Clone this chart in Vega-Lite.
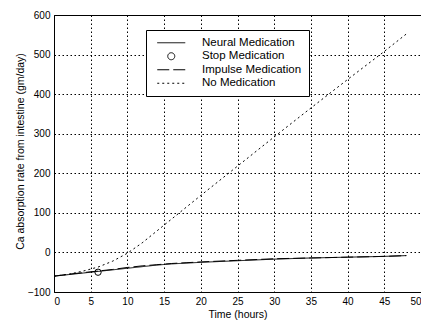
{
  "$schema": "https://vega.github.io/schema/vega-lite/v6.json",
  "autosize": "none",
  "padding": {"left": 54, "top": 15, "right": 0, "bottom": 32},
  "width": 367,
  "height": 277,
  "background": "white",
  "config": {
    "font": "Liberation Sans",
    "view": {"stroke": "black", "strokeWidth": 1},
    "axis": {
      "grid": true, "gridColor": "black", "gridDash": [1.5, 2.5], "gridOpacity": 1, "gridWidth": 1,
      "domain": false, "ticks": false,
      "labelFont": "Liberation Sans", "labelFontSize": 10, "labelColor": "black",
      "titleFont": "Liberation Sans", "titleFontSize": 10.5, "titleFontWeight": "normal", "titleColor": "black"
    },
    "legend": {
      "orient": "none", "legendX": 92, "legendY": 15,
      "strokeColor": "black", "fillColor": "white", "padding": 7,
      "symbolSize": 49, "symbolStrokeWidth": 1, "symbolStrokeColor": "black",
      "symbolOffset": 12.5, "labelOffset": 25,
      "labelFont": "Liberation Sans", "labelFontSize": 11.5, "labelColor": "black",
      "rowPadding": 0.5, "title": null
    }
  },
  "data": {
    "values": [
      {"series": "Neural Medication", "t": 0, "v": -60},
      {"series": "Neural Medication", "t": 2, "v": -56},
      {"series": "Neural Medication", "t": 4, "v": -52},
      {"series": "Neural Medication", "t": 6, "v": -48},
      {"series": "Neural Medication", "t": 8, "v": -44},
      {"series": "Neural Medication", "t": 10, "v": -40},
      {"series": "Neural Medication", "t": 12, "v": -36},
      {"series": "Neural Medication", "t": 14, "v": -32},
      {"series": "Neural Medication", "t": 16, "v": -29},
      {"series": "Neural Medication", "t": 18, "v": -27},
      {"series": "Neural Medication", "t": 20, "v": -25},
      {"series": "Neural Medication", "t": 25, "v": -21},
      {"series": "Neural Medication", "t": 30, "v": -17},
      {"series": "Neural Medication", "t": 35, "v": -14},
      {"series": "Neural Medication", "t": 40, "v": -12},
      {"series": "Neural Medication", "t": 45, "v": -10},
      {"series": "Neural Medication", "t": 48, "v": -8},
      {"series": "Stop Medication", "t": 6, "v": -50},
      {"series": "Impulse Medication", "t": 0, "v": -60},
      {"series": "Impulse Medication", "t": 2, "v": -55},
      {"series": "Impulse Medication", "t": 4, "v": -51},
      {"series": "Impulse Medication", "t": 6, "v": -47},
      {"series": "Impulse Medication", "t": 8, "v": -43},
      {"series": "Impulse Medication", "t": 10, "v": -38},
      {"series": "Impulse Medication", "t": 12, "v": -34},
      {"series": "Impulse Medication", "t": 14, "v": -31},
      {"series": "Impulse Medication", "t": 16, "v": -28},
      {"series": "Impulse Medication", "t": 18, "v": -26},
      {"series": "Impulse Medication", "t": 20, "v": -24},
      {"series": "Impulse Medication", "t": 25, "v": -20},
      {"series": "Impulse Medication", "t": 30, "v": -16},
      {"series": "Impulse Medication", "t": 35, "v": -14},
      {"series": "Impulse Medication", "t": 40, "v": -12},
      {"series": "Impulse Medication", "t": 45, "v": -10},
      {"series": "Impulse Medication", "t": 48, "v": -8},
      {"series": "No Medication", "t": 0, "v": -60},
      {"series": "No Medication", "t": 2, "v": -55},
      {"series": "No Medication", "t": 4, "v": -47},
      {"series": "No Medication", "t": 6, "v": -37},
      {"series": "No Medication", "t": 8, "v": -22},
      {"series": "No Medication", "t": 10, "v": -2},
      {"series": "No Medication", "t": 12, "v": 24},
      {"series": "No Medication", "t": 14, "v": 54},
      {"series": "No Medication", "t": 16, "v": 84},
      {"series": "No Medication", "t": 18, "v": 114},
      {"series": "No Medication", "t": 20, "v": 144},
      {"series": "No Medication", "t": 25, "v": 218},
      {"series": "No Medication", "t": 30, "v": 292},
      {"series": "No Medication", "t": 35, "v": 365},
      {"series": "No Medication", "t": 40, "v": 437},
      {"series": "No Medication", "t": 45, "v": 508},
      {"series": "No Medication", "t": 48, "v": 552}
    ]
  },
  "encoding": {
    "x": {"field": "t", "type": "quantitative",
      "scale": {"domain": [0, 50], "nice": false},
      "axis": {"values": [0, 5, 10, 15, 20, 25, 30, 35, 40, 45, 50], "title": "Time (hours)", "labelPadding": 4, "titlePadding": 3}},
    "y": {"field": "v", "type": "quantitative",
      "scale": {"domain": [-100, 600], "nice": false},
      "axis": {"values": [-100, 0, 100, 200, 300, 400, 500, 600], "title": "Ca absorption rate from intestine (gm/day)", "labelPadding": 4,
        "titleX": -34, "titleY": 136, "titleAngle": -90, "titleAlign": "center", "titleBaseline": "middle"}}
  },
  "layer": [
    {
      "transform": [{"filter": "datum.series !== 'Stop Medication'"}],
      "mark": {"type": "line", "color": "black", "strokeWidth": 1},
      "encoding": {
        "strokeDash": {"field": "series", "type": "nominal",
          "scale": {"domain": ["Neural Medication", "Stop Medication", "Impulse Medication", "No Medication"],
            "range": [[1, 0], [1, 0], [12, 4], [2, 3]]}}
      }
    },
    {
      "transform": [{"filter": "datum.series === 'Stop Medication'"}],
      "mark": {"type": "point", "color": "black", "filled": false, "size": 40, "strokeWidth": 1, "opacity": 1},
      "encoding": {
        "shape": {"field": "series", "type": "nominal",
          "scale": {"domain": ["Neural Medication", "Stop Medication", "Impulse Medication", "No Medication"],
            "range": ["M-4,0H4", "circle", "M-4,0H4", "M-4,0H4"]}}
      }
    }
  ]
}
